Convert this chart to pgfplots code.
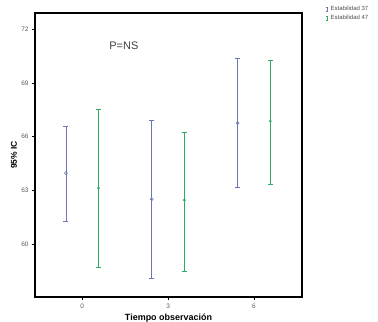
\documentclass[border=0pt]{standalone}
\usepackage{pgfplots}
\pgfplotsset{compat=1.18}
\usepackage{fontspec}
\setmainfont{Liberation Sans}
\definecolor{cblue}{RGB}{110,118,182}
\definecolor{cgreen}{RGB}{45,170,100}
\begin{document}
\begin{tikzpicture}
\begin{axis}[at={(0,0)}, anchor=south west, scale only axis,
  width=267bp, height=284bp,
  xmin=-0.55, xmax=2.56, ymin=57.04, ymax=72.9,
  xtick={0,1,2}, xticklabels={0,3,6}, ytick={60,63,...,72},
  axis line style={line width=1.6bp},
  tick style={black, line width=0.5bp}, major tick length=3bp, tick align=outside,
  xtick pos=bottom, ytick pos=left,
  ticklabel style={font=\fontsize{6.5}{7}\selectfont, text=gray!70!black},
  /pgf/number format/assume math mode=true,
  xlabel={\textbf{Tiempo observación}},
  xlabel style={at={(axis description cs:0.5,-0.074)}, anchor=center, font=\fontsize{9}{10}\selectfont},
  ylabel={\textbf{95\% IC}},
  ylabel style={at={(axis description cs:-0.0787,0.5)}, anchor=center, font=\fontsize{8.5}{9}\selectfont},
  legend style={draw=none, fill=none, at={(axis description cs:1.09,1.03)}, anchor=north west,
    font=\fontsize{6}{6}\selectfont, inner sep=0pt, row sep=-1.5bp, text=gray!60!black},
  legend image code/.code={\draw[#1, mark=none, line width=0.5bp] (1.5bp,-2bp) -- (1.5bp,2bp) (0.5bp,-2bp)--(2.5bp,-2bp) (0.5bp,2bp)--(2.5bp,2bp);},
]
\addplot[only marks, cblue, mark=o, mark size=1.5bp, mark options={line width=0.5bp},
  error bars/.cd, y dir=both, y explicit,
  error bar style={line width=0.8bp, cblue},
  error mark options={rotate=90, mark size=2.5bp, line width=0.6bp}]
  coordinates {
  (-0.19,63.96) += (0,2.62) -= (0,2.69)
  (0.81,62.50) += (0,4.42) -= (0,4.40)
  (1.81,66.75) += (0,3.63) -= (0,3.58)
  };
\addlegendentry{Estabilidad 37}
\addplot[only marks, cgreen, mark=o, mark size=1.2bp, mark options={line width=0.5bp},
  error bars/.cd, y dir=both, y explicit,
  error bar style={line width=1.4bp, cgreen},
  error mark options={rotate=90, mark size=2.5bp, line width=0.7bp}]
  coordinates {
  (0.19,63.12) += (0,4.41) -= (0,4.42)
  (1.19,62.45) += (0,3.80) -= (0,3.95)
  (2.19,66.86) += (0,3.41) -= (0,3.52)
  };
\addlegendentry{Estabilidad 47}
\node[font=\fontsize{11}{12}\selectfont, text=gray!50!black] at (axis cs:0.485,71.1) {P=NS};
\end{axis}
\pgfresetboundingbox
\useasboundingbox (-35bp,-25bp) rectangle (343bp,297bp);
\end{tikzpicture}
\end{document}
